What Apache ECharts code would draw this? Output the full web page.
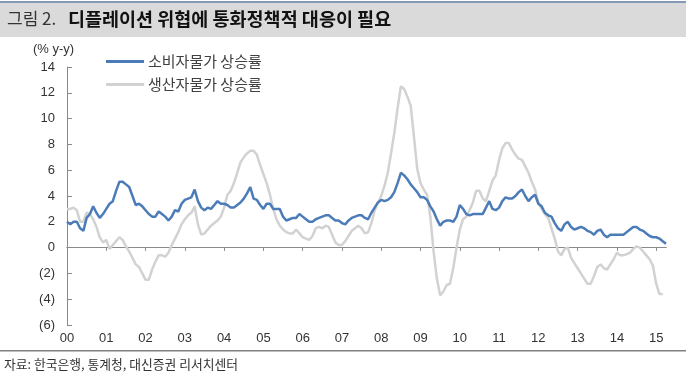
<!DOCTYPE html>
<html>
<head>
<meta charset="utf-8">
<script src="https://cdn.jsdelivr.net/npm/echarts@6/dist/echarts.min.js"></script>
<style>
html,body{margin:0;padding:0;background:#fff;}
#chart{width:686px;height:378px;}
</style>
</head>
<body>
<div id="chart"></div>
<script>
// Monthly year-on-year rates, Jan 2000 .. Apr 2015
var startYear = 2000;
var monthCount = 184;
var yearLabels = ['00','01','02','03','04','05','06','07','08','09','10','11','12','13','14','15'];
var yTicks = [-6,-4,-2,0,2,4,6,8,10,12,14];

var cpiName = '소비자물가 상승률';
var ppiName = '생산자물가 상승률';

var cpi = [
  2.0,1.8,2.0,2.0,1.5,1.3,2.3,2.6,3.2,2.7,2.3,2.6,
  3.0,3.4,3.6,4.4,5.1,5.1,4.9,4.7,4.0,3.3,3.4,3.2,
  2.9,2.6,2.4,2.4,2.8,2.6,2.4,2.1,2.4,2.9,2.8,3.4,
  3.7,3.8,3.9,4.5,3.6,3.1,2.9,3.1,3.0,3.3,3.6,3.4,
  3.4,3.3,3.1,3.1,3.3,3.5,3.8,4.2,4.7,3.8,3.7,3.3,
  3.0,3.4,3.4,3.0,3.0,3.0,2.4,2.1,2.2,2.3,2.3,2.6,
  2.4,2.2,2.0,2.0,2.2,2.3,2.4,2.5,2.5,2.3,2.1,2.1,
  1.9,1.8,2.1,2.3,2.4,2.5,2.5,2.3,2.2,2.7,3.1,3.5,
  3.7,3.6,3.7,3.9,4.3,5.0,5.8,5.6,5.3,4.9,4.6,4.3,
  3.9,3.9,3.7,3.2,2.8,2.2,1.7,2.0,2.1,2.1,2.0,2.4,
  3.3,3.0,2.6,2.5,2.6,2.6,2.6,2.6,3.1,3.6,3.0,2.9,
  3.1,3.6,3.9,3.8,3.8,4.0,4.3,4.5,4.0,3.6,3.9,4.1,
  3.4,3.2,2.7,2.5,2.4,1.9,1.5,1.3,1.8,2.0,1.6,1.4,
  1.5,1.6,1.5,1.3,1.2,1.0,1.3,1.4,1.0,0.8,1.0,1.0,
  1.0,1.0,1.0,1.2,1.4,1.6,1.6,1.4,1.3,1.1,0.9,0.8,
  0.8,0.7,0.5,0.3
];

var ppi = [
  3.0,3.0,3.1,2.9,2.0,2.0,2.7,2.6,2.2,1.6,0.8,0.4,
  0.6,-0.1,0.2,0.5,0.8,0.6,0.1,-0.3,-0.8,-1.3,-1.5,-2.0,
  -2.5,-2.5,-1.7,-1.1,-0.6,-0.6,-0.7,-0.4,0.2,0.7,1.2,1.8,
  2.2,2.5,2.7,3.2,1.8,1.0,1.1,1.4,1.7,1.9,2.1,2.4,
  3.1,4.1,4.4,5.0,5.8,6.6,7.0,7.3,7.5,7.5,7.2,6.4,
  5.7,5.0,4.1,3.0,2.2,1.7,1.4,1.2,1.1,1.1,1.4,1.1,
  0.8,0.7,0.6,0.9,1.5,1.6,1.5,1.7,1.6,1.0,0.4,0.2,
  0.2,0.5,0.9,1.3,1.5,1.7,1.5,1.1,1.2,1.9,2.9,3.5,
  4.0,4.8,5.8,7.3,8.9,10.8,12.5,12.3,11.7,11.0,8.6,6.1,
  5.0,4.5,4.1,2.4,-0.3,-2.4,-3.7,-3.4,-2.9,-2.8,-1.6,0.0,
  1.4,2.2,2.4,2.9,3.5,4.4,4.4,3.8,3.6,4.4,5.2,5.6,
  6.8,7.7,8.1,8.1,7.6,7.2,6.9,6.8,6.3,5.8,5.1,4.5,
  3.5,3.0,2.6,2.3,1.5,0.7,-0.3,-0.6,-0.1,0.0,-0.8,-1.2,
  -1.6,-2.0,-2.4,-2.8,-2.8,-2.2,-1.5,-1.3,-1.6,-1.7,-1.3,-0.9,
  -0.4,-0.6,-0.6,-0.5,-0.4,-0.1,0.1,0.0,-0.3,-0.6,-0.9,-1.4,
  -2.8,-3.6,-3.6,null
];

var months = [];
for (var i = 0; i < monthCount; i++) {
  var y = startYear + Math.floor(i / 12);
  var m = (i % 12) + 1;
  months.push(y + '-' + (m < 10 ? '0' + m : m));
}
function isYearStart(idx) { return idx % 12 === 0; }
function yearLabel(v, idx) { return yearLabels[Math.floor(idx / 12)] || ''; }

var FONT = '"Liberation Sans", "Noto Sans CJK KR", sans-serif';
var KFONT = '"Noto Sans CJK KR", "Liberation Sans", sans-serif';
var AXIS_COLOR = '#8a8a8a';
var BLUE = '#4b7cb8';
var GREY = '#d2d2d2';

var chart = echarts.init(document.getElementById('chart'), null, {renderer: 'canvas'});
chart.setOption({
  animation: false,
  backgroundColor: '#ffffff',
  grid: {left: 67, right: 20, top: 67, bottom: 53},
  legend: {
    data: [
      {name: cpiName, icon: 'rect', itemStyle: {color: BLUE}},
      {name: ppiName, icon: 'rect', itemStyle: {color: GREY}}
    ],
    orient: 'vertical',
    left: 101, top: 49,
    itemWidth: 38, itemHeight: 3, itemGap: 8,
    textStyle: {fontFamily: KFONT, fontSize: 15, color: '#404040', padding: [0, 0, 0, -1]}
  },
  xAxis: [
    {
      type: 'category', data: months, boundaryGap: false,
      axisLine: {onZero: true, onZeroAxisIndex: 0, lineStyle: {color: AXIS_COLOR, width: 1}},
      axisTick: {show: true, inside: false, length: 3, interval: isYearStart, lineStyle: {color: AXIS_COLOR}},
      axisLabel: {show: false}, splitLine: {show: false}
    },
    {
      type: 'category', data: months, boundaryGap: false,
      axisLine: {onZero: true, onZeroAxisIndex: 0, lineStyle: {color: AXIS_COLOR, width: 1}},
      axisTick: {show: true, inside: true, length: 3, interval: isYearStart, lineStyle: {color: AXIS_COLOR}},
      axisLabel: {show: false}, splitLine: {show: false}
    },
    {
      type: 'category', data: months, boundaryGap: false, position: 'bottom',
      axisLine: {show: false, onZero: false},
      axisTick: {show: false},
      axisLabel: {show: true, interval: isYearStart, formatter: yearLabel, margin: 7,
        fontFamily: FONT, fontSize: 13, color: '#333333'},
      splitLine: {show: false}
    }
  ],
  yAxis: {
    type: 'value', min: yTicks[0], max: yTicks[yTicks.length - 1], interval: 2,
    axisLine: {show: true, onZero: false, lineStyle: {color: AXIS_COLOR, width: 1}},
    axisTick: {show: true, inside: true, length: 5, lineStyle: {color: AXIS_COLOR}},
    axisLabel: {margin: 12, fontFamily: FONT, fontSize: 13, color: '#333333',
      formatter: function (v) { return v < 0 ? '(' + (-v) + ')' : String(v); }},
    splitLine: {show: false}
  },
  series: [
    {
      name: ppiName, type: 'line', data: ppi, xAxisIndex: 0, symbol: 'none',
      lineStyle: {color: GREY, width: 2.5}, itemStyle: {color: GREY}, z: 2
    },
    {
      name: cpiName, type: 'line', data: cpi, xAxisIndex: 0, symbol: 'none',
      lineStyle: {color: BLUE, width: 2.5}, itemStyle: {color: BLUE}, z: 3
    }
  ],
  graphic: [
    {type: 'rect', shape: {x: 0, y: 3, width: 686, height: 34}, style: {fill: '#dadada'}, silent: true},
    {type: 'rect', shape: {x: 0, y: 1, width: 686, height: 2}, style: {fill: '#8499b6'}, silent: true},
    {type: 'text', x: 7, y: 19, silent: true,
      style: {text: '그림 2.', fontFamily: KFONT, fontSize: 17, fontWeight: 'normal', fill: '#333333', verticalAlign: 'middle'}},
    {type: 'text', x: 68, y: 19, silent: true,
      style: {text: '디플레이션 위협에 통화정책적 대응이 필요', fontFamily: KFONT, fontSize: 18.5, fontWeight: 'bold', fill: '#111111', verticalAlign: 'middle'}},
    {type: 'text', x: 33, y: 49, silent: true,
      style: {text: '(% y-y)', fontFamily: FONT, fontSize: 13, fill: '#333333', verticalAlign: 'middle'}},
    {type: 'rect', shape: {x: 0, y: 350, width: 686, height: 1.5}, style: {fill: '#808080'}, silent: true},
    {type: 'text', x: 4, y: 364, silent: true,
      style: {text: '자료: 한국은행, 통계청, 대신증권 리서치센터', fontFamily: KFONT, fontSize: 12.8, fill: '#333333', verticalAlign: 'middle'}}
  ]
});
</script>
</body>
</html>
